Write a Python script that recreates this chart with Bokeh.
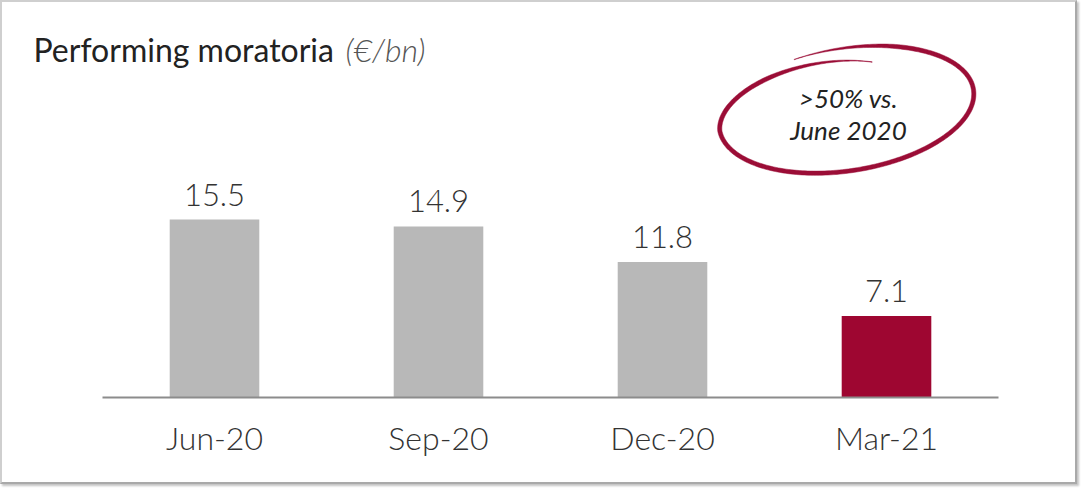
import numpy as np
from bokeh.plotting import figure
from bokeh.models import ColumnDataSource, Range1d, Label, FixedTicker
from bokeh.embed import file_html
from bokeh.resources import INLINE
from bokeh.core.properties import value

# ---- data ----
categories = ["Jun-20", "Sep-20", "Dec-20", "Mar-21"]
values = [15.5, 14.9, 11.8, 7.1]
value_labels = ["15.5", "14.9", "11.8", "7.1"]
highlight = [False, False, False, True]
title_main = "Performing moratoria"
title_unit = "(€/bn)"
note_lines = [">50% vs.", "June 2020"]

GREY = "#b8b8b8"
RED = "#9e0631"
bar_colors = [RED if h else GREY for h in highlight]
xpos = [i + 0.5 for i in range(len(categories))]

PX_PER_UNIT = 11.48   # vertical pixels per € bn
CAT_PX = 224          # pixels per category slot
W, H = 1077, 484
FRAME_LEFT_PAD = 100  # px from canvas left edge to first category slot
FRAME_H = 395

p = figure(
    x_range=Range1d(-FRAME_LEFT_PAD / CAT_PX, len(categories)),
    y_range=Range1d(0, FRAME_H / PX_PER_UNIT),
    width=W, height=H,
    output_backend="svg", toolbar_location=None,
    y_axis_location=None,
    min_border_left=0, min_border_right=W - FRAME_LEFT_PAD - CAT_PX * len(categories),
    min_border_top=0, min_border_bottom=H - FRAME_H,
)
# pixel-like helper ranges for the decorations (canvas offset 2px)
p.extra_x_ranges = {"px": Range1d(2, 2 + FRAME_LEFT_PAD + CAT_PX * len(categories))}
p.extra_y_ranges = {"px": Range1d(2 + FRAME_H, 2)}
p.styles = {
    "border-left": "2px solid #cfcfcf",
    "border-top": "2px solid #cfcfcf",
    "border-right": "2px solid #a9a9a9",
    "border-bottom": "2px solid #a9a9a9",
    "box-shadow": "2px 2px 2px #c4c4c4",
}
p.outline_line_color = None
p.xgrid.grid_line_color = None
p.ygrid.grid_line_color = None
p.background_fill_color = "white"
p.border_fill_color = "white"

src = ColumnDataSource(dict(x=xpos, cat=categories, val=values, lbl=value_labels, color=bar_colors))
p.vbar(x="x", top="val", width=0.4, color="color", line_color=None, source=src)
p.text(x="x", y="val", text="lbl", source=src, text_align="center",
       text_baseline="alphabetic", y_offset=-25,
       text_font=value("Lato Light"), text_font_size="31px", text_color="#333333")

ax = p.xaxis[0]
ax.ticker = FixedTicker(ticks=xpos)
ax.major_label_overrides = {x: c for x, c in zip(xpos, categories)}
ax.bounds = (0, len(categories))
ax.axis_line_color = "#8c8c8c"
ax.axis_line_width = 2
ax.major_tick_line_color = None
ax.minor_tick_line_color = None
ax.major_label_text_font = "Lato Light"
ax.major_label_text_font_size = "32px"
ax.major_label_text_color = "#333333"
ax.major_label_standoff = 14

# title
p.add_layout(Label(x=33, y=49, x_range_name="px", y_range_name="px", text=title_main,
                   text_baseline="alphabetic", text_font="Lato", text_font_size="32px",
                   text_color="#222222"))
p.add_layout(Label(x=345, y=49, x_range_name="px", y_range_name="px", text=title_unit,
                   text_baseline="alphabetic", text_font="Lato Light", text_font_style="italic",
                   text_font_size="32px", text_color="#555555"))

# hand-drawn ellipse (decoration)
t = np.linspace(np.deg2rad(250), np.deg2rad(650), 300)
u = (t - t[0]) / (t[-1] - t[0])
s = 1.02 - 0.26 * np.clip((u - 0.72) / 0.28, 0, 1) ** 1.3
ex = 126 * s * np.cos(t)
ey = 60 * s * np.sin(t)
phi = np.deg2rad(-9)
cx = 846 + ex * np.cos(phi) - ey * np.sin(phi)
cy = 109 + ex * np.sin(phi) + ey * np.cos(phi)
w = 4.2 * np.minimum(np.clip(u / 0.12, 0.1, 1), np.clip((1 - u) / 0.15, 0.1, 1))
dx = np.gradient(cx)
dy = np.gradient(cy)
n = np.hypot(dx, dy)
nx, ny = -dy / n, dx / n
px_out = cx + nx * w / 2
py_out = cy + ny * w / 2
px_in = cx - nx * w / 2
py_in = cy - ny * w / 2
p.patch(np.concatenate([px_out, px_in[::-1]]), np.concatenate([py_out, py_in[::-1]]),
        fill_color="#9b0d36", line_color="#9b0d36", line_width=0.5,
        x_range_name="px", y_range_name="px")

for line, yy in zip(note_lines, [97, 129]):
    p.add_layout(Label(x=848, y=yy, x_range_name="px", y_range_name="px", text=line,
                       text_align="center", text_baseline="alphabetic", text_font="Lato",
                       text_font_style="italic", text_font_size="26px", text_color="#222222"))

open("out.html", "w").write(file_html(p, INLINE))
